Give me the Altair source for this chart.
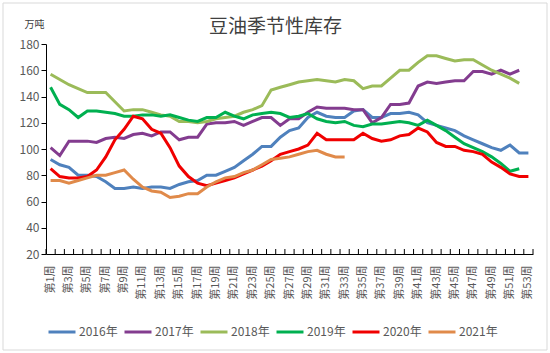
import altair as alt
import pandas as pd

weeks = list(range(1, 54))
week_labels = [f"第{i}周" for i in weeks]
shown_labels = [f"第{i}周" for i in weeks if i % 2 == 1]

years = ["2016年", "2017年", "2018年", "2019年", "2020年", "2021年"]
colors = ["#4f81bd", "#833c8f", "#9bbb59", "#00b050", "#f00000", "#e08a4a"]

s2016 = [92, 88, 86, 80, 80, 79, 75, 70, 70, 71, 70, 71, 71, 70, 73, 75, 76, 80, 80, 83,
         86, 91, 96, 102, 102, 109, 114, 116, 124, 128, 125, 124, 124, 129, 130, 124, 124, 127, 127, 128,
         126, 120, 118, 116, 114, 110, 107, 104, 101, 99, 103, 97, 97]
s2017 = [101, 95, 106, 106, 106, 105, 108, 109, 108, 111, 112, 110, 113, 113, 107, 109, 109, 119, 120, 120,
         121, 118, 121, 124, 124, 118, 123, 123, 128, 132, 131, 131, 131, 130, 130, 120, 124, 134, 134, 135,
         148, 151, 150, 151, 152, 152, 159, 159, 157, 160, 157, 160]
s2018 = [157, 153, 149, 146, 143, 143, 143, 136, 129, 130, 130, 128, 126, 125, 121, 121, 120, 121, 123, 124,
         125, 128, 130, 133, 145, 147, 149, 151, 152, 153, 152, 151, 153, 152, 146, 148, 148, 154, 160, 160,
         166, 171, 171, 169, 167, 168, 168, 164, 160, 157, 154, 150]
s2019 = [147, 134, 130, 124, 129, 129, 128, 127, 125, 125, 126, 126, 125, 126, 124, 122, 121, 124, 124, 128,
         125, 123, 126, 127, 128, 127, 124, 125, 127, 123, 121, 120, 121, 118, 117, 119, 119, 120, 121, 120,
         118, 122, 118, 114, 109, 104, 101, 98, 94, 89, 83, 85]
s2020 = [85, 79, 78, 78, 79, 84, 94, 107, 115, 125, 123, 115, 112, 101, 87, 79, 74, 72, 74, 76,
         78, 81, 84, 87, 91, 96, 98, 100, 103, 112, 107, 107, 107, 107, 112, 108, 106, 107, 110, 111,
         116, 113, 105, 102, 102, 99, 98, 96, 90, 86, 81, 79, 79]
s2021 = [76, 76, 74, 76, 78, 80, 80, 82, 84, 77, 71, 68, 67, 63, 64, 66, 66, 71, 75, 78,
         79, 82, 84, 88, 92, 93, 94, 96, 98, 99, 96, 94, 94]

series = [s2016, s2017, s2018, s2019, s2020, s2021]
rows = []
for yname, vals in zip(years, series):
    for i, v in enumerate(vals):
        rows.append({"week": week_labels[i], "year": yname, "value": v})
df = pd.DataFrame(rows)
wk = pd.DataFrame({"week": week_labels})

xscale = alt.Scale(type="band", paddingInner=0, paddingOuter=0)

lines = alt.Chart(df).mark_line(strokeWidth=3).encode(
    x=alt.X("week:N", sort=week_labels, scale=xscale,
            axis=alt.Axis(values=shown_labels, ticks=False, labelAngle=270, labelPadding=11,
                          labelFontSize=11, labelColor="#595959", domainColor="black",
                          labelOverlap=False, title=None)),
    y=alt.Y("value:Q", scale=alt.Scale(domain=[20, 180]),
            axis=alt.Axis(values=list(range(20, 181, 20)), grid=False, tickSize=5,
                          tickColor="black", domainColor="black", labelColor="#595959",
                          labelFontSize=12, labelPadding=2, title="万吨", titleAngle=0,
                          titleX=-12, titleY=-20, titleFontSize=10, titleFontWeight="normal",
                          titleColor="#404040", titleAlign="center", titleBaseline="middle")),
    color=alt.Color("year:N", scale=alt.Scale(domain=years, range=colors),
                    legend=alt.Legend(title=None, orient="none", direction="horizontal",
                                      legendX=1, legendY=273, symbolType="stroke",
                                      symbolSize=729, symbolStrokeWidth=3, labelFontSize=12,
                                      labelColor="#595959", labelOffset=2, columnPadding=0)),
    detail="year:N",
)

ticks = alt.Chart(wk).mark_rule(color="black", strokeWidth=1).encode(
    x=alt.X("week:N", sort=week_labels, bandPosition=0),
    y=alt.value(205),
    y2=alt.value(210),
)
end_tick = alt.Chart(pd.DataFrame({"a": [0]})).mark_rule(color="black", strokeWidth=1).encode(
    x=alt.value(487), y=alt.value(205), y2=alt.value(210)
)
frame = alt.Chart(pd.DataFrame({"a": [0]})).mark_rect(fill=None, stroke="#d9d9d9", strokeWidth=1).encode(
    x=alt.value(-43), x2=alt.value(501), y=alt.value(-41), y2=alt.value(306)
)

chart = alt.layer(frame, ticks, end_tick, lines).properties(
    width=487, height=210,
    title=alt.TitleParams("豆油季节性库存", fontSize=19, fontWeight="normal", color="#404040",
                          anchor="middle", dx=-14, dy=42, offset=8),
    autosize=alt.AutoSizeParams(type="none"),
    padding={"left": 46, "top": 44, "right": 17, "bottom": 99},
).configure(font="Noto Sans CJK SC").configure_view(stroke=None)

chart.save("out.html", embed_options={"renderer": "svg", "actions": False})
